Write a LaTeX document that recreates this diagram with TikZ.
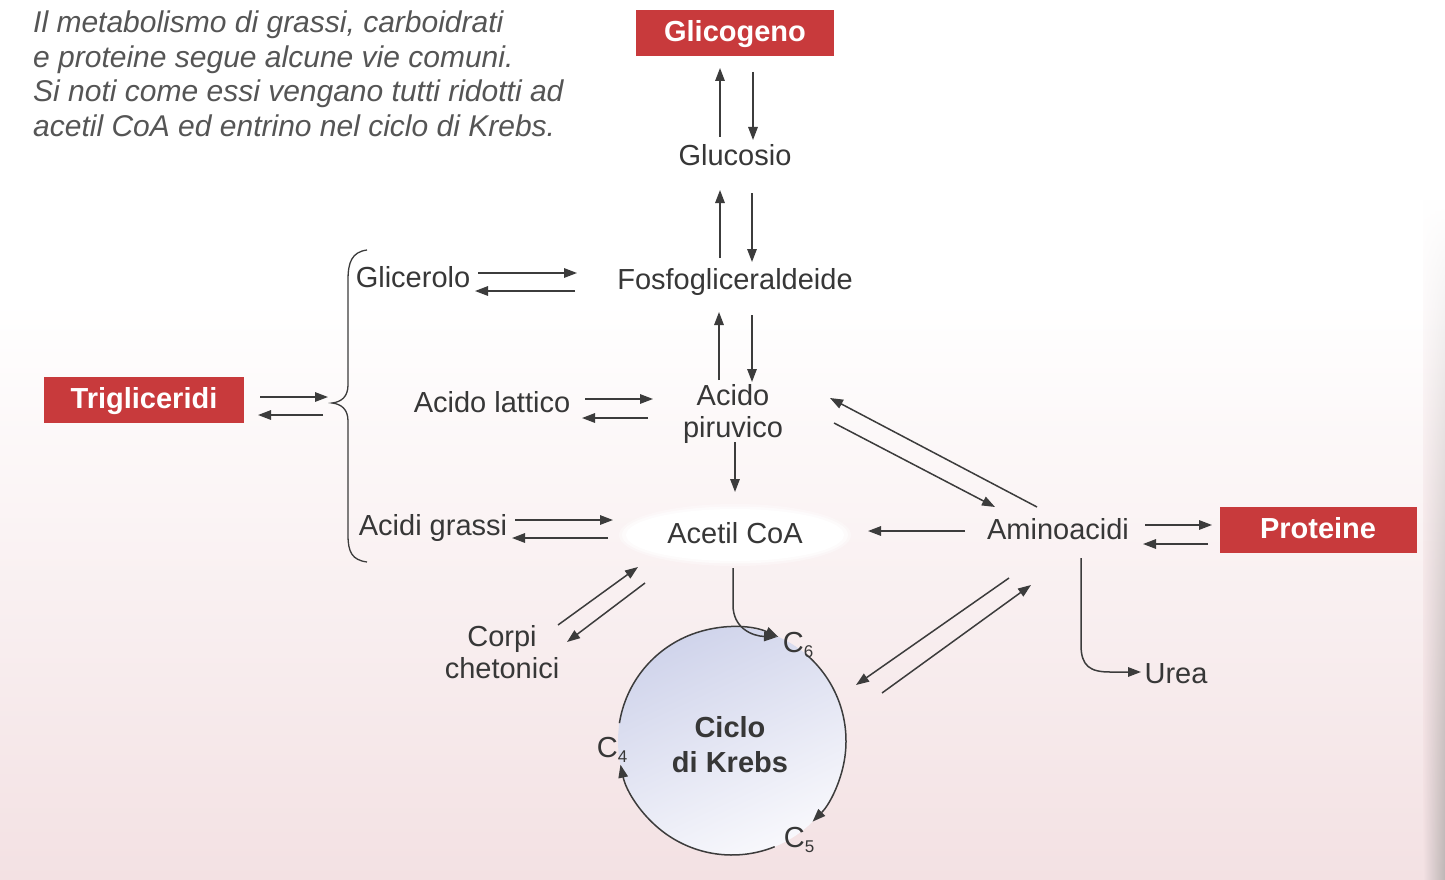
\documentclass[tikz,border=0pt]{standalone}
\usepackage{fontspec}
\setmainfont{Liberation Sans}
\usetikzlibrary{arrows.meta,calc,fadings}
\definecolor{boxred}{RGB}{200,58,60}
\definecolor{lblgray}{RGB}{55,55,55}
\definecolor{arrgray}{RGB}{60,60,60}
\definecolor{capgray}{RGB}{85,85,85}
\definecolor{pinkbg}{RGB}{243,225,227}
\definecolor{edgegray}{RGB}{190,182,182}
\definecolor{krebstop}{RGB}{208,212,235}
\definecolor{krebsbot}{RGB}{248,248,252}
\newcommand{\lblfont}{\fontsize{29}{34}\selectfont}
\newcommand{\csub}[1]{C\raisebox{-5pt}{\fontsize{17}{17}\selectfont #1}}
\begin{document}
\begin{tikzpicture}[x=1pt,y=1pt,
  lbl/.style={font=\lblfont, text=lblgray, inner sep=0pt, text height=24pt, text depth=3pt},
  lbltwo/.style={font=\lblfont, text=lblgray, inner sep=0pt, align=center},
  redbox/.style={fill=boxred, text=white, font=\lblfont\bfseries, inner sep=0pt,
    text height=22pt, text depth=5pt, minimum height=46pt},
  arr/.style={draw=arrgray, line width=1.5pt, -{Triangle[length=13pt,width=9.5pt]}},
  captxt/.style={font=\fontsize{30}{34}\selectfont\itshape, text=capgray, inner sep=0pt, anchor=base west}
]
\useasboundingbox (0,0) rectangle (1445,-880);
\fill[white] (0,0) rectangle (1445,-880);
\shade[top color=white, bottom color=pinkbg] (0,-300) rectangle (1445,-880);
\shade[left color=pinkbg, right color=edgegray, path fading=north] (1423,-200) rectangle (1445,-880);

% caption
\node[captxt] (cap1) at (33,-33) {Il metabolismo di grassi, carboidrati};
\node[captxt] (cap2) at (33,-68) {e proteine segue alcune vie comuni.};
\node[captxt] (cap3) at (33,-102) {Si noti come essi vengano tutti ridotti ad};
\node[captxt] (cap4) at (33,-137) {acetil CoA ed entrino nel ciclo di Krebs.};

% glow behind Acetil CoA
\fill[white, opacity=0.35] (735,-535) ellipse [x radius=116, y radius=31];
\fill[white, opacity=0.6] (735,-535) ellipse [x radius=113, y radius=28.5];
\fill[white] (735,-535) ellipse [x radius=109, y radius=26];

% Krebs circle
\node[circle, minimum size=228pt, inner sep=0pt, top color=krebstop, bottom color=krebsbot, shading angle=25] (krebs) at (732,-741) {};
\node[lbltwo, font=\lblfont\bfseries] (kt) at (730,-745) {Ciclo\\[1pt]di Krebs};
\node[lbl] (c6) at (798,-642) {\csub{6}};
\node[lbl] (c4) at (612,-747) {\csub{4}};
\node[lbl] (c5) at (799,-837) {\csub{5}};

% nodes
\node[redbox, minimum width=198pt] (glic) at (735,-33) {Glicogeno};
\node[lbl] (glu) at (735,-155) {Glucosio};
\node[lbl] (fosfo) at (735,-279) {Fosfogliceraldeide};
\node[lbltwo] (piru) at (733,-414) {Acido\\[-2pt]piruvico};
\node[lbl] (acetil) at (735,-533) {Acetil CoA};
\node[lbl] (amino) at (1058,-529) {Aminoacidi};
\node[redbox, minimum width=197pt] (prot) at (1318,-530) {Proteine};
\node[lbl] (urea) at (1176,-673) {Urea};
\node[lbl] (glice) at (413,-277) {Glicerolo};
\node[lbl] (latt) at (492,-402) {Acido lattico};
\node[lbl] (grassi) at (433,-525) {Acidi grassi};
\node[redbox, minimum width=200pt] (trig) at (144,-400) {Trigliceridi};
\node[lbltwo] (corpi) at (502,-652) {Corpi\\[-2pt]chetonici};

% brace
\coordinate (btip) at (332,-403);
\draw[arrgray, line width=1.3pt] (367,-250) .. controls (352,-252) and (348,-262) .. (348,-280)
  -- (348,-385) .. controls (348,-397) and (341,-402) .. (btip)
  .. controls (341,-404) and (348,-409) .. (348,-421)
  -- (348,-535) .. controls (348,-552) and (352,-560) .. (367,-562);

% vertical arrows
\draw[arr] ($(glu)+(-15,18)$) -- ($(glic)+(-15,-35)$);
\draw[arr] ($(glic)+(18,-39)$) -- ($(glu)+(18,15)$);
\draw[arr] ($(fosfo)+(-15,21)$) -- ($(glu)+(-15,-35)$);
\draw[arr] ($(glu)+(17,-38)$) -- ($(fosfo)+(17,17)$);
\draw[arr] ($(piru)+(-14,34)$) -- ($(fosfo)+(-16,-33)$);
\draw[arr] ($(fosfo)+(17,-36)$) -- ($(piru)+(19,32)$);
\draw[arr] ($(piru)+(2,-28)$) -- ($(acetil)+(0,41)$);

% horizontal pairs
\draw[arr] ($(glice)+(65,4)$) -- ($(fosfo)+(-158,6)$);
\draw[arr] ($(fosfo)+(-160,-12)$) -- ($(glice)+(62,-14)$);
\draw[arr] ($(latt)+(93,3)$) -- ($(piru)+(-80,15)$);
\draw[arr] ($(piru)+(-85,-4)$) -- ($(latt)+(90,-16)$);
\draw[arr] ($(grassi)+(82,5)$) -- ($(acetil)+(-122,13)$);
\draw[arr] ($(acetil)+(-127,-5)$) -- ($(grassi)+(79,-13)$);
\draw[arr] ($(trig)+(116,3)$) -- ($(btip)+(-4,6)$);
\draw[arr] ($(btip)+(-9,-12)$) -- ($(trig)+(114,-15)$);
\draw[arr] ($(amino)+(-93,-2)$) -- ($(acetil)+(133,2)$);
\draw[arr] ($(amino)+(87,4)$) -- ($(prot)+(-106,5)$);
\draw[arr] ($(prot)+(-110,-14)$) -- ($(amino)+(85,-15)$);

% diagonal pairs
\draw[arr] ($(corpi)+(56,27)$) -- ($(acetil)+(-97,-34)$);
\draw[arr] ($(acetil)+(-90,-50)$) -- ($(corpi)+(65,10)$);
\draw[arr] ($(amino)+(-21,22)$) -- ($(piru)+(97,16)$);
\draw[arr] ($(piru)+(101,-9)$) -- ($(amino)+(-63,22)$);
\draw[arr] ($(amino)+(-49,-49)$) -- ($(krebs)+(124,56)$);
\draw[arr] ($(krebs)+(150,48)$) -- ($(amino)+(-27,-56)$);

% urea
\draw[arr] ($(amino)+(23,-29)$) -- ($(amino)+(23,-116)$)
  .. controls ($(amino)+(23,-137)$) and ($(amino)+(32,-143)$) .. ($(amino)+(52,-143)$)
  -- ($(urea)+(-35,1)$);

% acetil CoA into the cycle
\draw[arr] ($(acetil)+(-2,-35)$) -- ($(acetil)+(-2,-72)$)
  .. controls ($(acetil)+(-2,-95)$) and ($(acetil)+(17,-103)$) .. ($(krebs)+(45,104)$);

% cycle arcs
\draw[arr] ([shift={(171:114pt)}]krebs.center) arc[start angle=171, end angle=66, radius=114pt];
\draw[arr] ([shift={(50:114pt)}]krebs.center) arc[start angle=50, end angle=-45, radius=114pt];
\draw[arr] ([shift={(-68:114pt)}]krebs.center) arc[start angle=-68, end angle=-168, radius=114pt];
\end{tikzpicture}
\end{document}
